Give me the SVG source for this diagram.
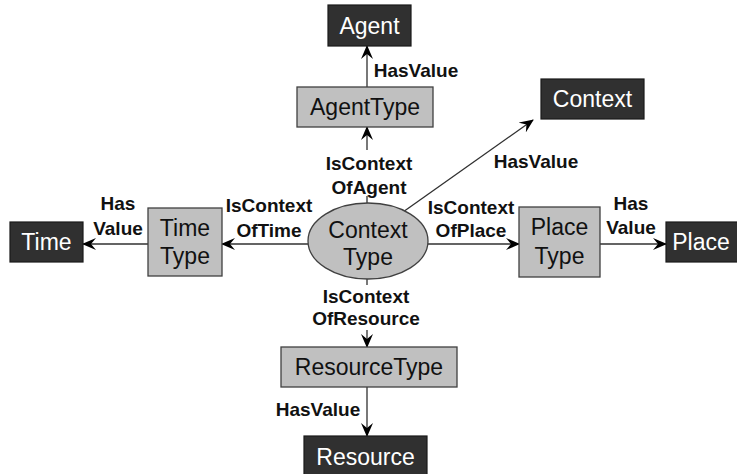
<svg xmlns="http://www.w3.org/2000/svg" width="737" height="474" viewBox="0 0 737 474">
  <style>
    .dark rect { fill: #303030; stroke: #1a1a1a; stroke-width: 1.2; }
    .dark text { fill: #ffffff; font-family: "Liberation Sans", Arial, sans-serif; font-size: 23px; text-anchor: middle; }
    .type rect, .type ellipse { fill: #c0c0c0; stroke: #404040; stroke-width: 1.3; }
    .type text { fill: #111111; font-family: "Liberation Sans", Arial, sans-serif; font-size: 23px; text-anchor: middle; }
    .edge { stroke: #303030; stroke-width: 1.3; fill: none; marker-end: url(#head); }
    .seg { stroke: #303030; stroke-width: 1.3; fill: none; }
    .lbl { fill: #111111; font-family: "Liberation Sans", Arial, sans-serif; font-size: 19px; font-weight: bold; text-anchor: middle; }
  </style>
  <defs>
    <marker id="head" viewBox="0 0 14 12" refX="13" refY="6" markerWidth="14" markerHeight="12" markerUnits="userSpaceOnUse" orient="auto">
      <path d="M0,0 L14,6 L0,12 L5,6 Z" fill="#000000"/>
    </marker>
  </defs>

  <rect width="737" height="474" fill="#ffffff"/>

  <!-- connectors -->
  <g id="connectors">
    <!-- AgentType -> Agent -->
    <line class="edge" x1="367" y1="87" x2="367" y2="46"/>
    <!-- ContextType -> AgentType (split around the label) -->
    <line class="seg" x1="367" y1="203" x2="367" y2="196"/>
    <line class="edge" x1="367" y1="150" x2="367" y2="127"/>
    <!-- ContextType -> Context -->
    <line class="edge" x1="403" y1="212" x2="533" y2="120"/>
    <!-- ContextType -> TimeType -->
    <line class="edge" x1="308" y1="244" x2="222" y2="244"/>
    <!-- TimeType -> Time -->
    <line class="edge" x1="148" y1="244" x2="83" y2="244"/>
    <!-- ContextType -> PlaceType -->
    <line class="edge" x1="428" y1="244" x2="519" y2="244"/>
    <!-- PlaceType -> Place -->
    <line class="edge" x1="600" y1="244" x2="666" y2="244"/>
    <!-- ContextType -> ResourceType (split around the label) -->
    <line class="seg" x1="367" y1="279" x2="367" y2="285"/>
    <line class="edge" x1="367" y1="330" x2="367" y2="347"/>
    <!-- ResourceType -> Resource -->
    <line class="edge" x1="367" y1="387" x2="367" y2="436"/>
  </g>

  <!-- connector labels -->
  <g id="labels">
    <text class="lbl" x="416" y="77">HasValue</text>
    <text class="lbl" x="369" y="170">IsContext</text>
    <text class="lbl" x="369" y="194">OfAgent</text>
    <text class="lbl" x="536" y="168">HasValue</text>
    <text class="lbl" x="118" y="210">Has</text>
    <text class="lbl" x="118" y="235">Value</text>
    <text class="lbl" x="269" y="212">IsContext</text>
    <text class="lbl" x="269" y="237">OfTime</text>
    <text class="lbl" x="471" y="214">IsContext</text>
    <text class="lbl" x="471" y="237">OfPlace</text>
    <text class="lbl" x="631" y="210">Has</text>
    <text class="lbl" x="631" y="234">Value</text>
    <text class="lbl" x="366" y="303">IsContext</text>
    <text class="lbl" x="366" y="325">OfResource</text>
    <text class="lbl" x="318" y="416">HasValue</text>
  </g>

  <!-- nodes -->
  <g id="agent" class="dark">
    <rect x="328" y="5" width="83" height="41"/>
    <text x="369.5" y="34">Agent</text>
  </g>
  <g id="agent-type" class="type">
    <rect x="297" y="87" width="136" height="40"/>
    <text x="365" y="115">AgentType</text>
  </g>
  <g id="context" class="dark">
    <rect x="541" y="79" width="103" height="40"/>
    <text x="592.5" y="107">Context</text>
  </g>
  <g id="context-type" class="type">
    <ellipse cx="368" cy="241" rx="60" ry="38"/>
    <text x="368" y="238">Context</text>
    <text x="368" y="265">Type</text>
  </g>
  <g id="time" class="dark">
    <rect x="10" y="222" width="73" height="40"/>
    <text x="46.5" y="250">Time</text>
  </g>
  <g id="time-type" class="type">
    <rect x="148" y="208" width="74" height="68"/>
    <text x="185" y="236">Time</text>
    <text x="185" y="264">Type</text>
  </g>
  <g id="place-type" class="type">
    <rect x="519" y="207" width="81" height="70"/>
    <text x="559.5" y="235">Place</text>
    <text x="559.5" y="264">Type</text>
  </g>
  <g id="place" class="dark">
    <rect x="666" y="222" width="76" height="40"/>
    <text x="701" y="250">Place</text>
  </g>
  <g id="resource-type" class="type">
    <rect x="281" y="347" width="176" height="40"/>
    <text x="369" y="375">ResourceType</text>
  </g>
  <g id="resource" class="dark">
    <rect x="304" y="436" width="123" height="42"/>
    <text x="365.5" y="465">Resource</text>
  </g>
</svg>
